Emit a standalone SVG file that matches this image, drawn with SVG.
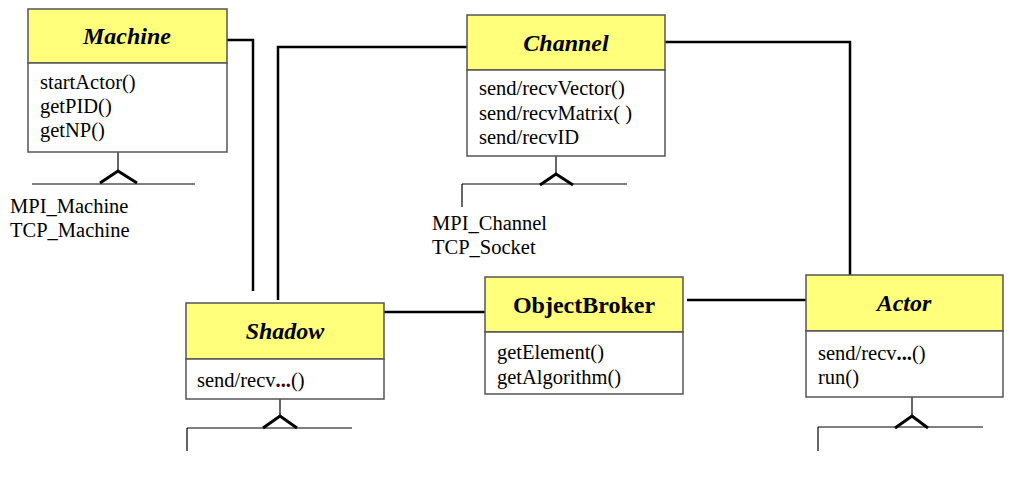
<svg xmlns="http://www.w3.org/2000/svg" width="1016" height="481" viewBox="0 0 1016 481" font-family="'Liberation Serif', 'Times New Roman', Times, 'DejaVu Serif', serif">
<style>
.hdr{fill:#ffff7c;stroke:#555;stroke-width:1.5}
.body{fill:#fff;stroke:#555;stroke-width:1.5}
.title{font-size:24px;font-weight:bold;font-style:italic;text-anchor:middle;fill:#000}
.plain{font-style:normal}
.m{font-size:20.5px;fill:#000}
.conn{fill:none;stroke:#000;stroke-width:2.5}
.inh{fill:none;stroke:#000;stroke-width:1.2}
.tri{fill:none;stroke:#000;stroke-width:3}
.dots{font-weight:bold}
</style>
<rect width="1016" height="481" fill="#fff"/>
<g id="connectors">
<polyline class="conn" points="227,40 253,40 253,291"/>
<polyline class="conn" points="467,47 278,47 278,300"/>
<polyline class="conn" points="665,42 850,42 850,276"/>
<line class="conn" x1="384" y1="312" x2="485" y2="312"/>
<line class="conn" x1="687" y1="300" x2="806" y2="300"/>
<line class="inh" x1="118" y1="152" x2="118" y2="172"/>
<polyline class="tri" points="100,183 118,171 137,183"/>
<line class="inh" x1="32" y1="184" x2="195" y2="184"/>
<line class="inh" x1="556" y1="156" x2="556" y2="173"/>
<polyline class="tri" points="540,185 556,174 573,185"/>
<line class="inh" x1="462" y1="184" x2="627" y2="184"/>
<line class="inh" x1="462" y1="184" x2="462" y2="207"/>
<line class="inh" x1="280" y1="399" x2="280" y2="416"/>
<polyline class="tri" points="263,428 280,416 297,428"/>
<line class="inh" x1="187" y1="428" x2="352" y2="428"/>
<line class="inh" x1="187" y1="428" x2="187" y2="451"/>
<line class="inh" x1="912" y1="397" x2="912" y2="415"/>
<polyline class="tri" points="895,428 912,416 928,428"/>
<line class="inh" x1="818" y1="427" x2="983" y2="427"/>
<line class="inh" x1="818" y1="427" x2="818" y2="451"/>
</g>
<g id="Machine">
<rect class="hdr" x="28" y="9" width="199" height="54"/>
<rect class="body" x="28" y="63" width="199" height="89"/>
<text class="title" x="127" y="44">Machine</text>
<text class="m" x="40" y="89">startActor()</text>
<text class="m" x="40" y="113">getPID()</text>
<text class="m" x="40" y="137">getNP()</text>
</g>
<g id="MachineSubclasses">
<text class="m" x="10" y="213">MPI_Machine</text>
<text class="m" x="10" y="237">TCP_Machine</text>
</g>
<g id="Channel">
<rect class="hdr" x="467" y="15" width="198" height="55"/>
<rect class="body" x="467" y="70" width="198" height="86"/>
<text class="title" x="566" y="51">Channel</text>
<text class="m" x="479" y="95">send/recvVector()</text>
<text class="m" x="479" y="120">send/recvMatrix( )</text>
<text class="m" x="479" y="144">send/recvID</text>
</g>
<g id="ChannelSubclasses">
<text class="m" x="432" y="230">MPI_Channel</text>
<text class="m" x="432" y="254">TCP_Socket</text>
</g>
<g id="Shadow">
<rect class="hdr" x="186" y="303" width="198" height="56"/>
<rect class="body" x="186" y="359" width="198" height="40"/>
<text class="title" x="285" y="339">Shadow</text>
<text class="m" x="197" y="387">send/recv<tspan class="dots" fill="#3a0000">...</tspan>()</text>
</g>
<g id="ObjectBroker">
<rect class="hdr" x="485" y="277" width="198" height="55"/>
<rect class="body" x="485" y="332" width="198" height="62"/>
<text class="title plain" x="584" y="313">ObjectBroker</text>
<text class="m" x="497" y="359">getElement()</text>
<text class="m" x="497" y="384">getAlgorithm()</text>
</g>
<g id="Actor">
<rect class="hdr" x="806" y="275" width="197" height="56"/>
<rect class="body" x="806" y="331" width="197" height="66"/>
<text class="title" x="904" y="311">Actor</text>
<text class="m" x="818" y="360">send/recv<tspan class="dots">...</tspan>()</text>
<text class="m" x="818" y="384">run()</text>
</g>
</svg>
